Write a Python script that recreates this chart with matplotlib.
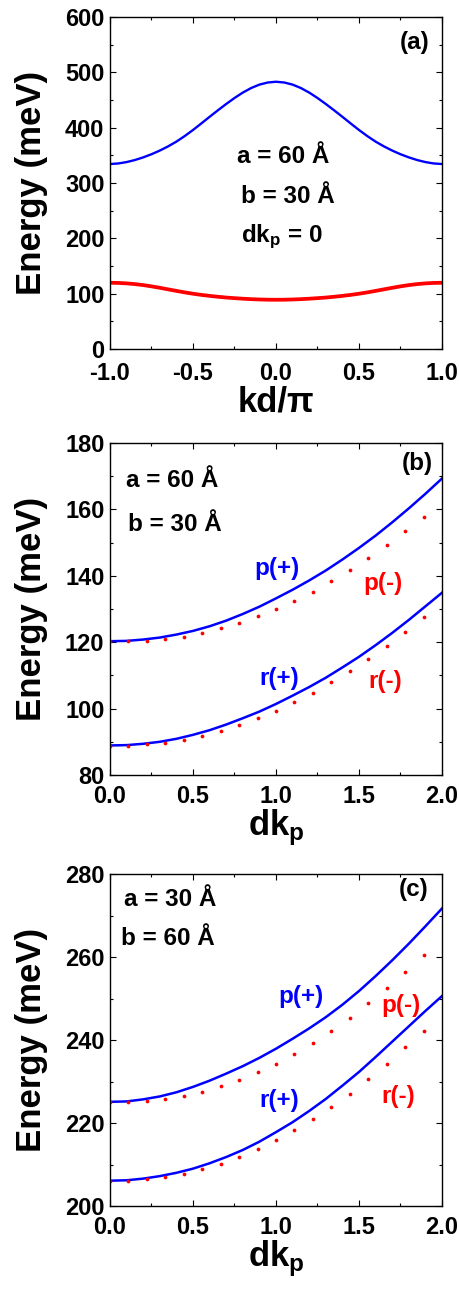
import matplotlib
matplotlib.use("Agg")
import matplotlib.pyplot as plt
from matplotlib.ticker import MultipleLocator

plt.rcParams['font.family'] = ['Liberation Sans', 'DejaVu Sans']
plt.rcParams['font.weight'] = 'bold'
plt.rcParams['mathtext.fontset'] = 'custom'
plt.rcParams['mathtext.rm'] = 'Liberation Sans:bold'
plt.rcParams['mathtext.it'] = 'Liberation Sans:bold'
plt.rcParams['mathtext.bf'] = 'Liberation Sans:bold'

# ---------------- Panel (a) data ----------------
kd = [-1.00, -0.95, -0.90, -0.85, -0.80, -0.75, -0.70, -0.65, -0.60, -0.55, -0.50,
      -0.45, -0.40, -0.35, -0.30, -0.25, -0.20, -0.15, -0.10, -0.05, 0.00,
      0.05, 0.10, 0.15, 0.20, 0.25, 0.30, 0.35, 0.40, 0.45, 0.50,
      0.55, 0.60, 0.65, 0.70, 0.75, 0.80, 0.85, 0.90, 0.95, 1.00]
a_upper = [334.3, 335.3, 337.8, 341.5, 346.3, 352.0, 358.6, 366.2, 374.8, 384.8, 395.8,
           407.6, 419.6, 431.4, 442.8, 453.6, 463.4, 471.6, 477.8, 481.6, 483.0,
           481.6, 477.8, 471.6, 463.4, 453.6, 442.8, 431.4, 419.6, 407.6, 395.8,
           384.8, 374.8, 366.2, 358.6, 352.0, 346.3, 341.5, 337.8, 335.3, 334.3]
a_lower = [119.7, 119.4, 118.6, 117.3, 115.5, 113.2, 110.6, 107.8, 105.0, 102.3, 99.9,
           97.8, 96.0, 94.4, 93.0, 91.9, 90.9, 90.1, 89.5, 89.1, 89.0,
           89.1, 89.5, 90.1, 90.9, 91.9, 93.0, 94.4, 96.0, 97.8, 99.9,
           102.3, 105.0, 107.8, 110.6, 113.2, 115.5, 117.3, 118.6, 119.4, 119.7]

# ---------------- Panels (b), (c) data ----------------
dk_line = [0.0, 0.1, 0.2, 0.3, 0.4, 0.5, 0.6, 0.7, 0.8, 0.9, 1.0,
           1.1, 1.2, 1.3, 1.4, 1.5, 1.6, 1.7, 1.8, 1.9, 2.0]
dk_dots = [0.000, 0.111, 0.222, 0.333, 0.444, 0.556, 0.667, 0.778, 0.889,
           1.000, 1.111, 1.222, 1.333, 1.444, 1.556, 1.667, 1.778, 1.889]

b_p_plus = [120.3, 120.4, 120.8, 121.4, 122.3, 123.4, 124.8, 126.5, 128.5, 130.7, 133.2,
            135.8, 138.6, 141.6, 144.9, 148.4, 152.1, 156.1, 160.3, 164.7, 169.3]
b_r_plus = [88.9, 89.0, 89.4, 90.0, 90.9, 92.1, 93.5, 95.2, 97.1, 99.1, 101.4,
            103.9, 106.5, 109.3, 112.4, 115.6, 119.1, 122.8, 126.7, 130.8, 134.9]
b_p_minus = [120.3, 120.3, 120.5, 120.9, 121.7, 122.9, 124.2, 125.9, 127.8,
             130.0, 132.5, 135.2, 138.3, 141.6, 145.4, 149.3, 153.5, 157.8]
b_r_minus = [88.8, 88.8, 89.2, 89.7, 90.6, 91.8, 93.3, 95.1, 97.1,
             99.4, 101.9, 104.8, 107.9, 111.3, 114.9, 119.0, 123.2, 127.7]

c_p_plus = [225.1, 225.2, 225.7, 226.4, 227.4, 228.7, 230.2, 231.9, 233.7, 235.7, 237.9,
            240.3, 242.8, 245.5, 248.5, 251.8, 255.4, 259.2, 263.2, 267.4, 271.7]
c_r_plus = [206.1, 206.2, 206.6, 207.2, 208.0, 209.0, 210.3, 211.8, 213.5, 215.5, 217.8,
            220.2, 222.9, 225.8, 229.0, 232.3, 235.9, 239.6, 243.3, 247.0, 250.6]
c_p_minus = [225.1, 225.1, 225.3, 225.7, 226.4, 227.5, 228.8, 230.4, 232.2,
             234.3, 236.6, 239.3, 242.2, 245.4, 248.8, 252.6, 256.5, 260.6]
c_r_minus = [206.1, 206.1, 206.4, 207.0, 207.8, 208.8, 210.1, 211.8, 213.7,
             215.8, 218.2, 220.9, 223.9, 227.1, 230.5, 234.2, 238.2, 242.2]

BLUE = '#0000ff'
RED = '#ff0000'
FS_TICK = 17
FS_LAB = 25
FS_TXT = 17.5

fig = plt.figure(figsize=(4.6, 12.89), dpi=100)
L, W, H = 110 / 460, 332 / 460, 332 / 1289
ax_a = fig.add_axes([L, 1 - 349 / 1289, W, H])
ax_b = fig.add_axes([L, 1 - 775 / 1289, W, H])
ax_c = fig.add_axes([L, 1 - 1206 / 1289, W, H])


def style(ax, xpad=7.5):
    for s in ax.spines.values():
        s.set_linewidth(1.0)
    ax.tick_params(which='both', direction='in', top=True, right=True,
                   labelsize=FS_TICK, width=0.8)
    ax.tick_params(which='major', length=4.0)
    ax.tick_params(which='minor', length=2.2)
    ax.tick_params(axis='x', which='major', pad=xpad)
    ax.tick_params(axis='y', which='major', pad=4)
    for lab in ax.get_xticklabels() + ax.get_yticklabels():
        lab.set_fontweight('bold')
    ax.set_ylabel('Energy (meV)', fontsize=FS_LAB, fontweight='bold', labelpad=12)


# ---- (a)
ax_a.plot(kd, a_upper, color=BLUE, lw=1.7)
ax_a.plot(kd, a_lower, color=RED, lw=2.7)
ax_a.set_xlim(-1, 1)
ax_a.set_ylim(0, 600)
ax_a.xaxis.set_major_locator(MultipleLocator(0.5))
ax_a.xaxis.set_minor_locator(MultipleLocator(0.25))
ax_a.yaxis.set_major_locator(MultipleLocator(100))
ax_a.yaxis.set_minor_locator(MultipleLocator(50))
ax_a.set_xticks([-1.0, -0.5, 0.0, 0.5, 1.0])
ax_a.set_xticklabels(['-1.0', '-0.5', '0.0', '0.5', '1.0'])
style(ax_a, xpad=9.5)
ax_a.set_xlabel('kd/π', fontsize=FS_LAB, fontweight='bold', labelpad=0.5)
ax_a.text(-0.237, 347, 'a = 60 Å', fontsize=FS_TXT, fontweight='bold', ha='left', va='center')
ax_a.text(-0.211, 275, 'b = 30 Å', fontsize=FS_TXT, fontweight='bold', ha='left', va='center')
ax_a.text(-0.211, 203, r'dk$_\mathrm{p}$ = 0', fontsize=FS_TXT, fontweight='bold', ha='left', va='center')
ax_a.text(0.747, 554, '(a)', fontsize=FS_TXT, fontweight='bold', ha='left', va='center')

# ---- (b)
ax_b.plot(dk_line, b_p_plus, color=BLUE, lw=1.8)
ax_b.plot(dk_line, b_r_plus, color=BLUE, lw=1.8)
ax_b.plot(dk_dots, b_p_minus, 'o', color=RED, ms=2.7, mew=0)
ax_b.plot(dk_dots, b_r_minus, 'o', color=RED, ms=2.7, mew=0)
ax_b.set_xlim(0, 2)
ax_b.set_ylim(80, 180)
ax_b.xaxis.set_major_locator(MultipleLocator(0.5))
ax_b.xaxis.set_minor_locator(MultipleLocator(0.25))
ax_b.yaxis.set_major_locator(MultipleLocator(20))
ax_b.yaxis.set_minor_locator(MultipleLocator(10))
style(ax_b)
ax_b.set_xlabel(r'dk$_\mathrm{p}$', fontsize=FS_LAB, fontweight='bold', labelpad=-1)
ax_b.text(0.096, 168.8, 'a = 60 Å', fontsize=FS_TXT, fontweight='bold', ha='left', va='center')
ax_b.text(0.111, 155.5, 'b = 30 Å', fontsize=FS_TXT, fontweight='bold', ha='left', va='center')
ax_b.text(1.757, 173.8, '(b)', fontsize=FS_TXT, fontweight='bold', ha='left', va='center')
ax_b.text(0.867, 142.1, 'p(+)', color=BLUE, fontsize=FS_TXT, fontweight='bold', ha='left', va='center')
ax_b.text(1.526, 137.8, 'p(-)', color=RED, fontsize=FS_TXT, fontweight='bold', ha='left', va='center')
ax_b.text(0.900, 109.0, 'r(+)', color=BLUE, fontsize=FS_TXT, fontweight='bold', ha='left', va='center')
ax_b.text(1.556, 108.3, 'r(-)', color=RED, fontsize=FS_TXT, fontweight='bold', ha='left', va='center')

# ---- (c)
ax_c.plot(dk_line, c_p_plus, color=BLUE, lw=1.8)
ax_c.plot(dk_line, c_r_plus, color=BLUE, lw=1.8)
ax_c.plot(dk_dots, c_p_minus, 'o', color=RED, ms=2.7, mew=0)
ax_c.plot(dk_dots, c_r_minus, 'o', color=RED, ms=2.7, mew=0)
ax_c.set_xlim(0, 2)
ax_c.set_ylim(200, 280)
ax_c.xaxis.set_major_locator(MultipleLocator(0.5))
ax_c.xaxis.set_minor_locator(MultipleLocator(0.25))
ax_c.yaxis.set_major_locator(MultipleLocator(20))
ax_c.yaxis.set_minor_locator(MultipleLocator(10))
style(ax_c)
ax_c.set_xlabel(r'dk$_\mathrm{p}$', fontsize=FS_LAB, fontweight='bold', labelpad=-1)
ax_c.text(0.084, 273.9, 'a = 30 Å', fontsize=FS_TXT, fontweight='bold', ha='left', va='center')
ax_c.text(0.064, 264.5, 'b = 60 Å', fontsize=FS_TXT, fontweight='bold', ha='left', va='center')
ax_c.text(1.741, 276.3, '(c)', fontsize=FS_TXT, fontweight='bold', ha='left', va='center')
ax_c.text(1.014, 250.6, 'p(+)', color=BLUE, fontsize=FS_TXT, fontweight='bold', ha='left', va='center')
ax_c.text(1.633, 248.4, 'p(-)', color=RED, fontsize=FS_TXT, fontweight='bold', ha='left', va='center')
ax_c.text(0.900, 225.4, 'r(+)', color=BLUE, fontsize=FS_TXT, fontweight='bold', ha='left', va='center')
ax_c.text(1.637, 226.3, 'r(-)', color=RED, fontsize=FS_TXT, fontweight='bold', ha='left', va='center')

fig.savefig('out.png', dpi=100)
